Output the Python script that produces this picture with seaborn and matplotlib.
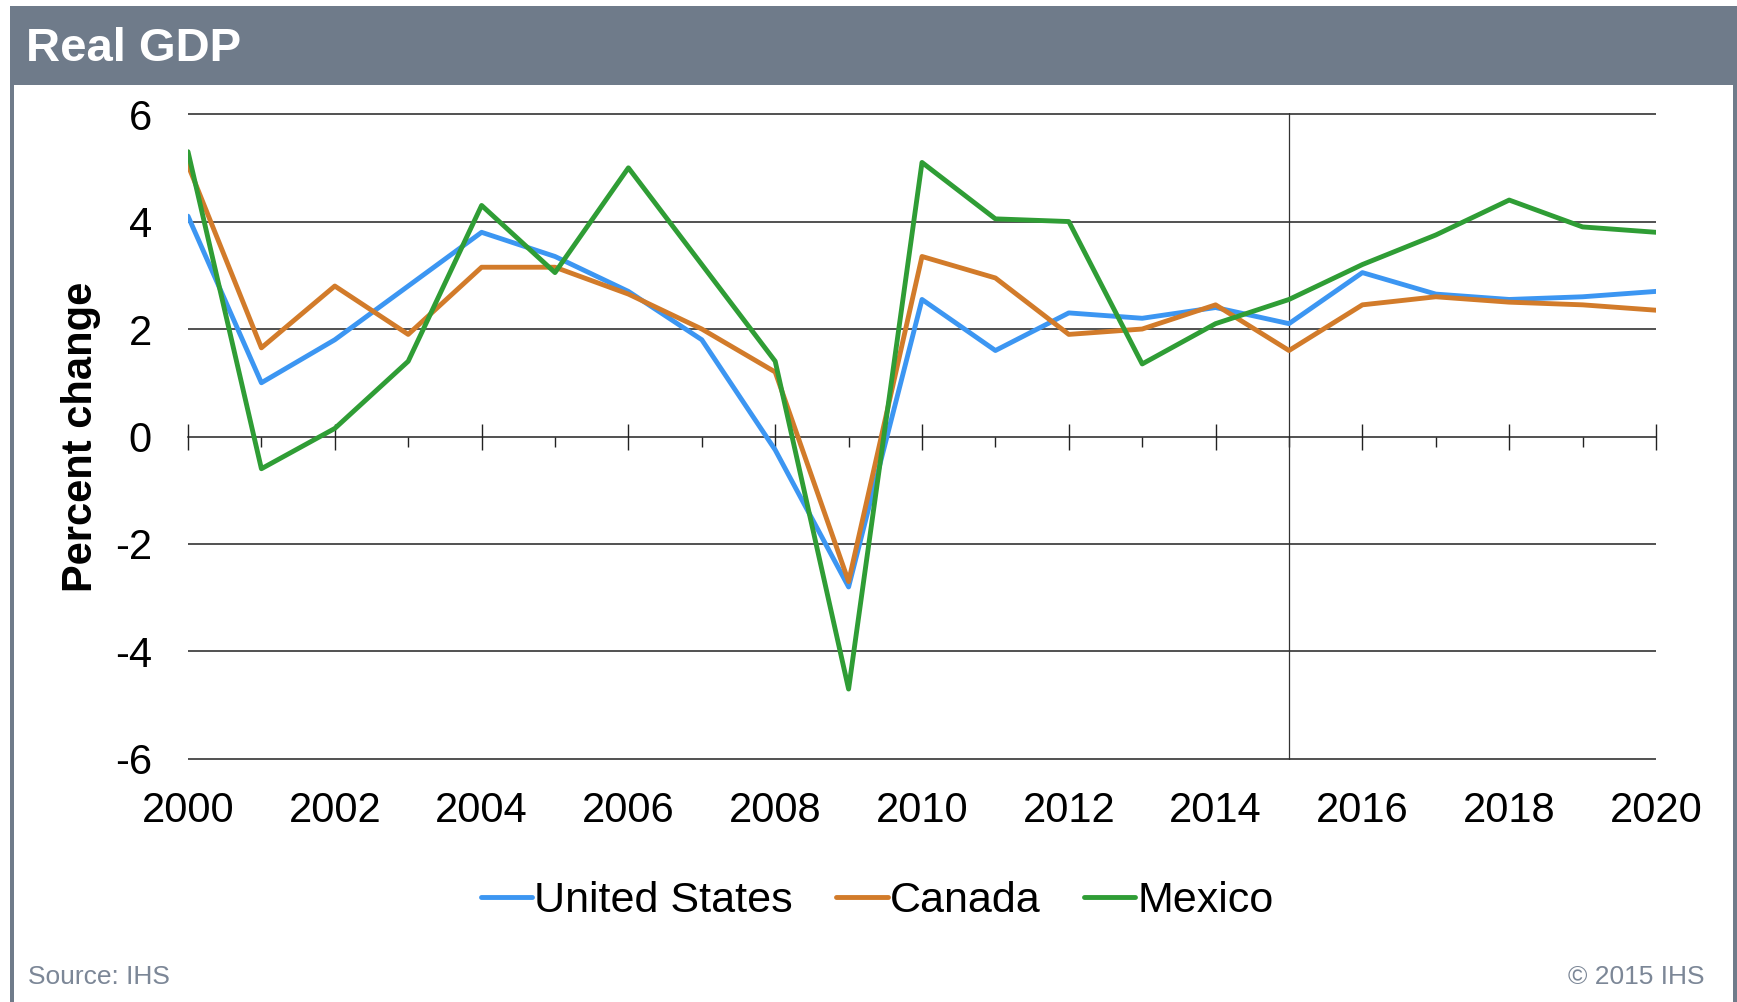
import numpy as np
import pandas as pd
import matplotlib
matplotlib.use("Agg")
import matplotlib.pyplot as plt
import seaborn as sns
from matplotlib.patches import Rectangle
from matplotlib.ticker import MultipleLocator

years = list(range(2000, 2021))
united_states = [4.1, 1.0, 1.8, 2.8, 3.8, 3.35, 2.7, 1.8, -0.25, -2.8, 2.55,
                 1.6, 2.3, 2.2, 2.4, 2.1, 3.05, 2.65, 2.55, 2.6, 2.7]
canada = [5.05, 1.65, 2.8, 1.9, 3.15, 3.15, 2.65, 2.0, 1.2, -2.7, 3.35,
          2.95, 1.9, 2.0, 2.45, 1.6, 2.45, 2.6, 2.5, 2.45, 2.35]
mexico = [5.3, -0.6, 0.15, 1.4, 4.3, 3.05, 5.0, 3.2, 1.4, -4.7, 5.1,
          4.05, 4.0, 1.35, 2.1, 2.55, 3.2, 3.75, 4.4, 3.9, 3.8]
series_names = ["United States", "Canada", "Mexico"]
colors = ["#3C96F2", "#D27B2A", "#2F9D35"]
title = "Real GDP"
ylabel = "Percent change"
source = "Source: IHS"
copyright_text = "\u00a9 2015 IHS"

df = pd.DataFrame({
    "year": years * 3,
    "value": united_states + canada + mexico,
    "country": [series_names[0]] * len(years) + [series_names[1]] * len(years) + [series_names[2]] * len(years),
})

sns.set_theme(style="white")
plt.rcParams["font.family"] = ["Liberation Sans", "DejaVu Sans"]
plt.rcParams["text.color"] = "black"
plt.rcParams["axes.labelcolor"] = "black"

W, H = 1737, 1002
fig = plt.figure(figsize=(W / 100, H / 100), dpi=100)
fig.patch.set_facecolor("white")

frame_col = "#6F7B8A"
# header band
fig.add_artist(Rectangle((10 / W, 1 - 85 / H), 1 - 10 / W, 79 / H,
                         transform=fig.transFigure, facecolor=frame_col,
                         edgecolor="none", zorder=0))
# side borders
fig.add_artist(Rectangle((10 / W, 0), 4 / W, 1 - 85 / H, transform=fig.transFigure,
                         facecolor=frame_col, edgecolor="none", zorder=0))
fig.add_artist(Rectangle((1733 / W, 0), 4 / W, 1 - 85 / H, transform=fig.transFigure,
                         facecolor=frame_col, edgecolor="none", zorder=0))
fig.text(26 / W, 1 - 49 / H, title, color="white", fontsize=34, fontweight="bold",
         va="center", ha="left")

ax = fig.add_axes([188 / W, 1 - 760 / H, (1656 - 188) / W, (760 - 113) / H])
ax.set_facecolor("none")

sns.lineplot(data=df, x="year", y="value", hue="country", palette=colors,
             hue_order=series_names, linewidth=3.5, ax=ax, legend=False, zorder=3)

ax.set_xlim(2000, 2020)
ax.set_ylim(-6.02, 6.02)
ax.set_yticks([-6, -4, -2, 0, 2, 4, 6])
ax.set_yticklabels(["-6", "-4", "-2", "0", "2", "4", "6"])
for yv in [-6, -4, -2, 2, 4, 6]:
    ax.axhline(yv, color="#222222", linewidth=1.1, zorder=1)
ax.axvline(2015, color="#333333", linewidth=0.9, zorder=1)

for s in ["top", "right", "left"]:
    ax.spines[s].set_visible(False)
ax.spines["bottom"].set_position(("data", 0))
ax.spines["bottom"].set_color("#222222")
ax.spines["bottom"].set_linewidth(1.1)
ax.spines["bottom"].set_zorder(1)

ax.xaxis.set_major_locator(MultipleLocator(2))
ax.xaxis.set_minor_locator(MultipleLocator(1))
ax.tick_params(axis="x", which="major", direction="inout", length=19, width=1.0,
               color="#222222", labelbottom=False, bottom=True)
ax.tick_params(axis="x", which="minor", direction="out", length=7, width=1.0,
               color="#222222", bottom=True)
ax.tick_params(axis="y", length=0, pad=26, labelsize=30, labelcolor="black")
ax.set_xlabel("")
ax.set_ylabel(ylabel, fontsize=30, fontweight="bold", color="black")
ax.yaxis.set_label_coords(-0.059, 0.5)

sec = ax.secondary_xaxis(0.0)
sec.set_xticks(list(range(2000, 2021, 2)))
sec.set_xticklabels([str(y) for y in range(2000, 2021, 2)])
sec.tick_params(length=0, pad=22, labelsize=30, labelcolor="black")
sec.spines["bottom"].set_visible(False)

handles = [plt.Line2D([0], [0], color=c, linewidth=3.5) for c in colors]
leg = fig.legend(handles, series_names, loc="center", bbox_to_anchor=(0.505, 1 - 901 / H),
                 ncol=3, frameon=False, fontsize=31, handlelength=1.2, handletextpad=0.05,
                 columnspacing=1.0)
for t in leg.get_texts():
    t.set_color("black")

fig.text(28 / W, 1 - 977 / H, source, color="#7C8797", fontsize=19, va="center", ha="left")
fig.text(1704 / W, 1 - 977 / H, copyright_text, color="#7C8797", fontsize=19,
         va="center", ha="right")

fig.savefig("out.png", dpi=100, facecolor="white")
